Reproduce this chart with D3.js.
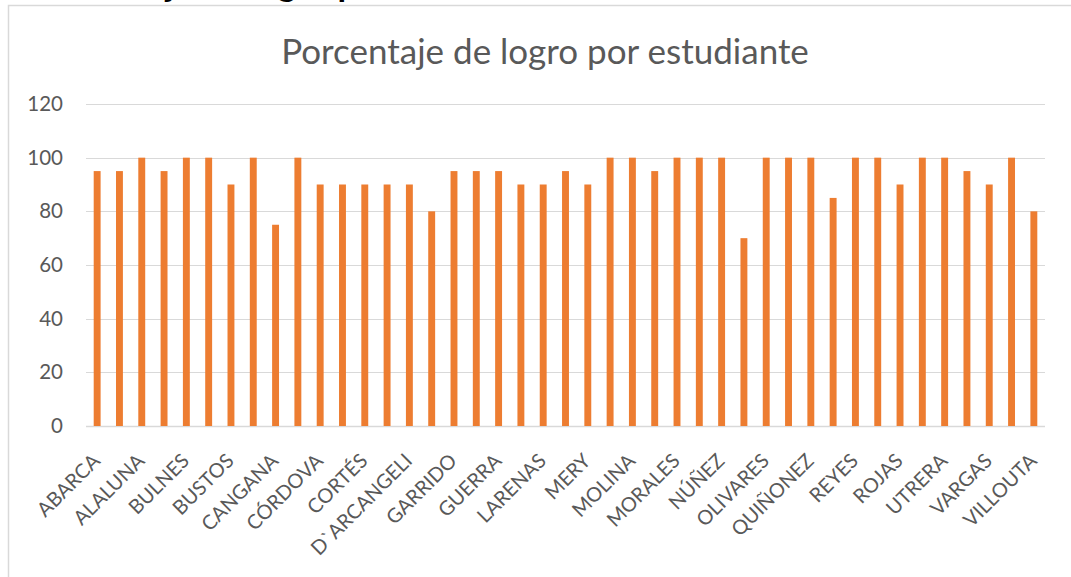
<!DOCTYPE html>
<html>
<head>
<meta charset="utf-8">
<script src="https://cdn.jsdelivr.net/npm/d3@7"></script>
<style>
  html, body { margin: 0; padding: 0; background: #fff; overflow: hidden; }
  svg { display: block; }
</style>
</head>
<body>
<svg id="chart" width="1071" height="577"></svg>
<script>
// Data (null = name not shown in the reference, only every other label is printed)
const students = [
  "ABARCA", null, "ALALUNA", null, "BULNES", null, "BUSTOS", null, "CANGANA", null,
  "CÓRDOVA", null, "CORTÉS", null, "D`ARCANGELI", null, "GARRIDO", null, "GUERRA", null,
  "LARENAS", null, "MERY", null, "MOLINA", null, "MORALES", null, "NÚÑEZ", null,
  "OLIVARES", null, "QUIÑONEZ", null, "REYES", null, "ROJAS", null, "UTRERA", null,
  "VARGAS", null, "VILLOUTA"
];
const logro = [
  95, 95, 100, 95, 100, 100, 90, 100, 75, 100,
  90, 90, 90, 90, 90, 80, 95, 95, 95, 90,
  90, 95, 90, 100, 100, 95, 100, 100, 100, 70,
  100, 100, 100, 85, 100, 100, 90, 100, 100, 95,
  90, 100, 80
];
const yTicks = [0, 20, 40, 60, 80, 100, 120];
const chartTitle = "Porcentaje de logro por estudiante";
const headingAbove = "Porcentaje de logro por estudiante";

const svg = d3.select("#chart");
const font = "Lato, 'Liberation Sans', sans-serif";

// clipped bold heading above the chart (only descenders visible)
const head = svg.append("text")
  .attr("x", 87).attr("y", -4)
  .attr("font-family", font).attr("font-weight", "bold")
  .attr("font-size", 35).attr("fill", "#000")
  .text(headingAbove);
const jIdx = headingAbove.indexOf("j");
if (jIdx >= 0) {
  const p = head.node().getStartPositionOfChar(jIdx).x;
  head.attr("x", 87 + (166 - p));
}

// chart frame
svg.append("rect")
  .attr("x", 8.5).attr("y", 5.5)
  .attr("width", 1100).attr("height", 620)
  .attr("fill", "#fff").attr("stroke", "#d9d9d9").attr("stroke-width", 1.5);

const margin = { left: 86, right: 1045, top: 104, bottom: 426 };

const x = d3.scaleBand()
  .domain(d3.range(logro.length))
  .range([margin.left, margin.right])
  .paddingInner(0.69).paddingOuter(0.345);

const y = d3.scaleLinear().domain([0, 120]).range([margin.bottom, margin.top]);

// gridlines
svg.append("g")
  .selectAll("line").data(yTicks).join("line")
  .attr("x1", margin.left).attr("x2", margin.right)
  .attr("y1", d => Math.round(y(d)) + 0.5).attr("y2", d => Math.round(y(d)) + 0.5)
  .attr("stroke", "#d9d9d9").attr("stroke-width", d => d === 0 ? 1.5 : 1.2);

// y axis labels
const yAxis = svg.append("g")
  .attr("transform", `translate(${margin.left - 23},0)`)
  .call(d3.axisLeft(y).tickValues(yTicks).tickSize(0).tickPadding(0));
yAxis.select(".domain").remove();
yAxis.selectAll("text")
  .attr("font-family", font).attr("font-size", 20.5).attr("fill", "#595959");

// bars
svg.append("g")
  .selectAll("rect").data(logro).join("rect")
  .attr("x", (d, i) => x(i))
  .attr("width", x.bandwidth())
  .attr("y", d => y(d))
  .attr("height", d => y(0) - y(d))
  .attr("fill", "#ed7d31");

// x axis labels
const xAxis = svg.append("g")
  .attr("transform", `translate(0,${margin.bottom})`)
  .call(d3.axisBottom(x).tickSize(0).tickFormat(i => students[i] || ""));
xAxis.select(".domain").remove();
xAxis.selectAll("text")
  .attr("font-family", font).attr("font-size", 20).attr("fill", "#595959")
  .attr("text-anchor", "end")
  .attr("dy", null)
  .attr("transform", "translate(2,34) rotate(-45)");

// title
svg.append("text")
  .attr("x", 545).attr("y", 64)
  .attr("text-anchor", "middle")
  .attr("font-family", font).attr("font-size", 35).attr("fill", "#595959")
  .text(chartTitle);
</script>
</body>
</html>
